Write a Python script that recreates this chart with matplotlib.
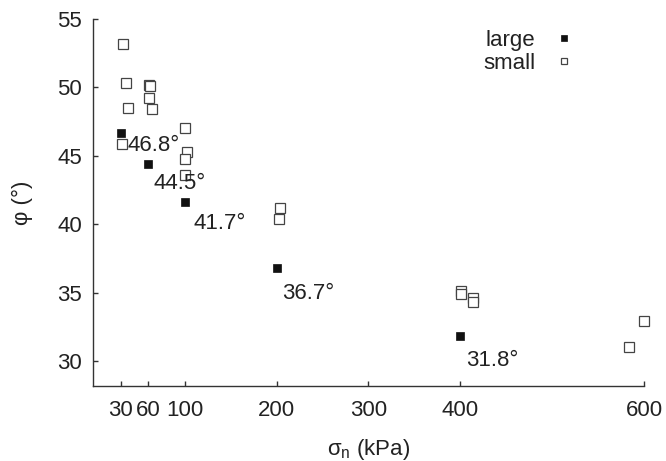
import matplotlib
matplotlib.use("Agg")
import matplotlib.pyplot as plt

plt.rcParams['font.family'] = ['Liberation Sans', 'DejaVu Sans']
plt.rcParams['mathtext.fontset'] = 'custom'
plt.rcParams['mathtext.rm'] = 'Liberation Sans'
plt.rcParams['mathtext.it'] = 'Liberation Sans'

# large specimens (filled squares) with labelled friction angles
large_x = [30, 60, 100, 200, 400]
large_y = [46.7, 44.4, 41.6, 36.8, 31.8]
large_labels = ['46.8°', '44.5°', '41.7°', '36.7°', '31.8°']

# small specimens (open squares)
small_x = [33, 36, 38, 32, 61, 62, 61, 64, 100, 102, 100, 100,
           204, 203, 401, 401, 414, 414, 600, 584]
small_y = [53.2, 50.3, 48.5, 45.9, 50.2, 50.1, 49.2, 48.4, 47.0, 45.3, 44.8, 43.6,
           41.2, 40.4, 35.1, 34.9, 34.6, 34.3, 32.9, 31.0]

x_ticks = [30, 60, 100, 200, 300, 400, 600]
y_ticks = [30, 35, 40, 45, 50, 55]

# label offsets in points from each large point
label_offsets = [(5, -9), (4, -14), (6, -15), (4, -18), (4, -17)]

fs = 16
txt = '#222222'

fig = plt.figure(figsize=(6.66, 4.61), dpi=100)
ax = fig.add_axes([0.1396, 0.1633, 0.8274, 0.7955])

ax.plot(small_x, small_y, 's', ms=6.5, mfc='white', mec='#444444', mew=0.9,
        label='small', zorder=2, clip_on=False)
ax.plot(large_x, large_y, 's', ms=5.2, mfc='#111111', mec='#111111', mew=0.5,
        label='large', zorder=3, clip_on=False)

for x, y, lab, (dx, dy) in zip(large_x, large_y, large_labels, label_offsets):
    ax.annotate(lab, (x, y), xytext=(dx, dy), textcoords='offset points',
                ha='left', va='center', fontsize=fs, color=txt, zorder=4)

ax.set_xlim(0, 600)
ax.set_ylim(28.2, 55)
ax.set_xticks(x_ticks)
ax.set_yticks(y_ticks)

for s in ['top', 'right']:
    ax.spines[s].set_visible(False)
for s in ['left', 'bottom']:
    ax.spines[s].set_color('#333333')
    ax.spines[s].set_linewidth(1.0)

ax.tick_params(direction='in', length=3.5, width=1, color='#333333',
               labelsize=fs, labelcolor=txt)
ax.tick_params(axis='x', pad=10.5)
ax.tick_params(axis='y', pad=8)

ax.set_xlabel(r'σ$_\mathrm{n}$ (kPa)', fontsize=fs, color=txt, labelpad=11)
ax.set_ylabel('φ (°)', fontsize=fs, color=txt)
ax.yaxis.set_label_coords(-0.109, 0.5)

handles, labels = ax.get_legend_handles_labels()
leg = ax.legend(handles[::-1], labels[::-1], loc='upper right',
                bbox_to_anchor=(0.891, 0.995), borderaxespad=0, frameon=False,
                markerfirst=False, fontsize=fs, handlelength=1.0,
                handletextpad=0.8, labelspacing=0.1, markerscale=0.75)
for t in leg.get_texts():
    t.set_color(txt)

fig.savefig('out.png', dpi=100)
